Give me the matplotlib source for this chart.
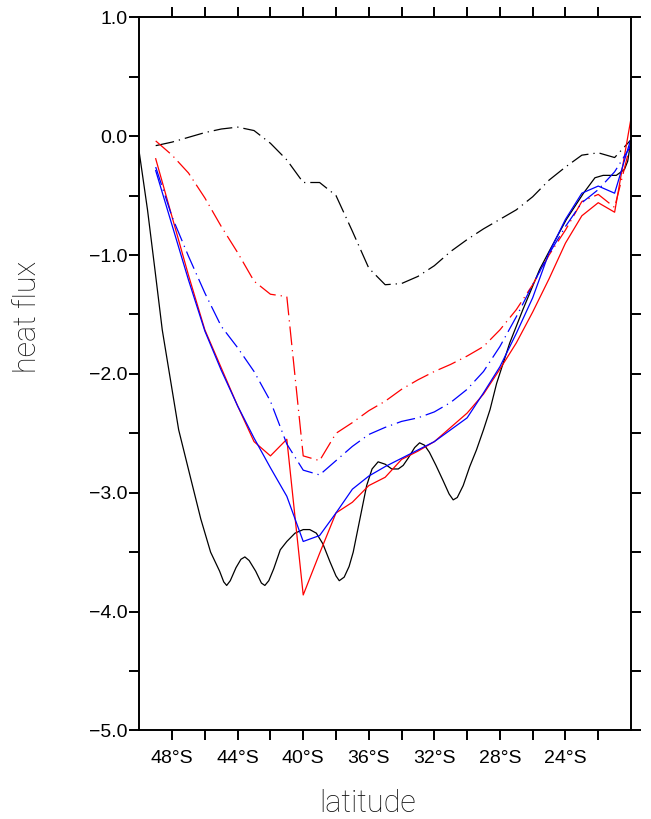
import numpy as np
import matplotlib
matplotlib.use('Agg')
import matplotlib.pyplot as plt
from matplotlib.ticker import FixedLocator

# model output on a 1 degree grid, 49S .. 20S
lat = np.arange(-49, -19)

red_solid = [-0.19, -0.68, -1.17, -1.63, -1.95, -2.27, -2.57, -2.69, -2.55, -3.86,
             -3.51, -3.17, -3.08, -2.94, -2.87, -2.72, -2.65, -2.57, -2.45, -2.33,
             -2.17, -1.96, -1.74, -1.48, -1.20, -0.90, -0.67, -0.56, -0.64, 0.15]
blue_solid = [-0.29, -0.75, -1.21, -1.64, -1.97, -2.27, -2.54, -2.79, -3.03, -3.41,
              -3.36, -3.17, -2.97, -2.86, -2.78, -2.71, -2.64, -2.57, -2.47, -2.37,
              -2.16, -1.94, -1.66, -1.36, -0.98, -0.70, -0.48, -0.42, -0.48, -0.02]
red_dashdot = [-0.04, -0.16, -0.31, -0.52, -0.76, -0.98, -1.22, -1.33, -1.35, -2.69,
               -2.73, -2.50, -2.41, -2.31, -2.23, -2.13, -2.05, -1.98, -1.92, -1.85,
               -1.77, -1.63, -1.46, -1.25, -1.00, -0.79, -0.55, -0.49, -0.60, -0.05]
blue_dashdot = [-0.26, -0.68, -1.01, -1.32, -1.60, -1.78, -1.98, -2.23, -2.59, -2.81,
                -2.85, -2.73, -2.61, -2.51, -2.45, -2.40, -2.37, -2.32, -2.24, -2.13,
                -1.98, -1.77, -1.52, -1.25, -0.99, -0.76, -0.56, -0.45, -0.30, -0.08]
black_dashdot = [-0.08, -0.05, -0.01, 0.03, 0.06, 0.076, 0.047, -0.06, -0.20, -0.39,
                 -0.39, -0.50, -0.80, -1.11, -1.25, -1.24, -1.18, -1.09, -0.97, -0.87,
                 -0.78, -0.70, -0.62, -0.51, -0.37, -0.26, -0.16, -0.14, -0.18, -0.03]

# observed estimate, finer sampling
obs_lat = [-50.0, -49.5, -49.05, -48.6, -48.1, -47.6, -46.9, -46.25, -45.65, -45.1,
           -44.85, -44.67, -44.45, -44.1, -43.8, -43.56, -43.3, -42.9, -42.55, -42.34,
           -42.1, -41.8, -41.4, -41.0, -40.5, -40.0, -39.6, -39.2, -38.8, -38.37,
           -38.0, -37.8, -37.5, -37.2, -36.95, -36.54, -36.13, -35.8, -35.43, -35.0,
           -34.6, -34.2, -33.9, -33.6, -33.2, -32.9, -32.6, -32.3, -31.9, -31.46,
           -31.1, -30.85, -30.6, -30.24, -29.84, -29.43, -29.0, -28.6, -28.2, -27.4,
           -26.6, -25.57, -24.96, -23.94, -22.9, -22.2, -21.7, -20.9, -20.4, -20.2,
           -20.0]
obs_flux = [-0.14, -0.62, -1.12, -1.63, -2.05, -2.47, -2.86, -3.22, -3.50, -3.66,
            -3.75, -3.78, -3.74, -3.63, -3.56, -3.54, -3.57, -3.66, -3.76, -3.78,
            -3.74, -3.64, -3.48, -3.41, -3.34, -3.31, -3.31, -3.34, -3.43, -3.58,
            -3.70, -3.74, -3.71, -3.62, -3.50, -3.22, -2.94, -2.80, -2.74, -2.76,
            -2.80, -2.80, -2.77, -2.71, -2.62, -2.58, -2.60, -2.66, -2.77, -2.90,
            -3.01, -3.06, -3.04, -2.94, -2.78, -2.64, -2.47, -2.30, -2.08, -1.74,
            -1.46, -1.12, -0.96, -0.70, -0.48, -0.35, -0.33, -0.33, -0.28, -0.21,
            -0.03]

xticks = [-48, -44, -40, -36, -32, -28, -24]
xlabels = ['48°S', '44°S', '40°S', '36°S', '32°S', '28°S', '24°S']
yticks = [1.0, 0.0, -1.0, -2.0, -3.0, -4.0, -5.0]
ylabels = ['1.0', '0.0', '\u22121.0', '\u22122.0', '\u22123.0', '\u22124.0', '\u22125.0']

plt.rcParams['font.family'] = ['Liberation Sans', 'DejaVu Sans']

fig = plt.figure(figsize=(6.51, 8.19), dpi=100)
ax = fig.add_axes([0.2140, 0.1081, 0.7553, 0.8708])

dashdot = (0, (15, 4, 1, 4))
lw = 0.9
ax.plot(obs_lat, obs_flux, color='black', lw=lw)
ax.plot(lat, black_dashdot, color='black', lw=lw, linestyle=dashdot)
ax.plot(lat, red_solid, color='red', lw=lw)
ax.plot(lat, red_dashdot, color='red', lw=lw, linestyle=dashdot)
ax.plot(lat, blue_solid, color='blue', lw=lw)
ax.plot(lat, blue_dashdot, color='blue', lw=lw, linestyle=dashdot)

ax.set_xlim(-50, -20)
ax.set_ylim(-5, 1)

ax.xaxis.set_major_locator(FixedLocator(xticks))
ax.set_xticklabels(xlabels)
ax.xaxis.set_minor_locator(FixedLocator([-46, -42, -38, -34, -30, -26, -22]))
ax.yaxis.set_major_locator(FixedLocator(yticks))
ax.set_yticklabels(ylabels)
ax.yaxis.set_minor_locator(FixedLocator([0.5, -0.5, -1.5, -2.5, -3.5, -4.5]))

for s in ax.spines.values():
    s.set_linewidth(1.4)
ax.tick_params(which='both', direction='out', length=7, width=1.4,
               top=True, right=True, labelsize=14)
ax.tick_params(axis='x', pad=7)
ax.tick_params(axis='y', pad=1.5)

label_font = dict(fontsize=22, family=['Roboto', 'DejaVu Sans'], fontweight='light',
                  color='#111111')
fig.text(28 / 651, 1 - 317 / 819, 'heat flux', rotation=90, ha='center', va='center',
         **label_font)
fig.text(367.5 / 651, 1 - 803 / 819, 'latitude', ha='center', va='center', **label_font)

fig.savefig('out.png', dpi=100)
